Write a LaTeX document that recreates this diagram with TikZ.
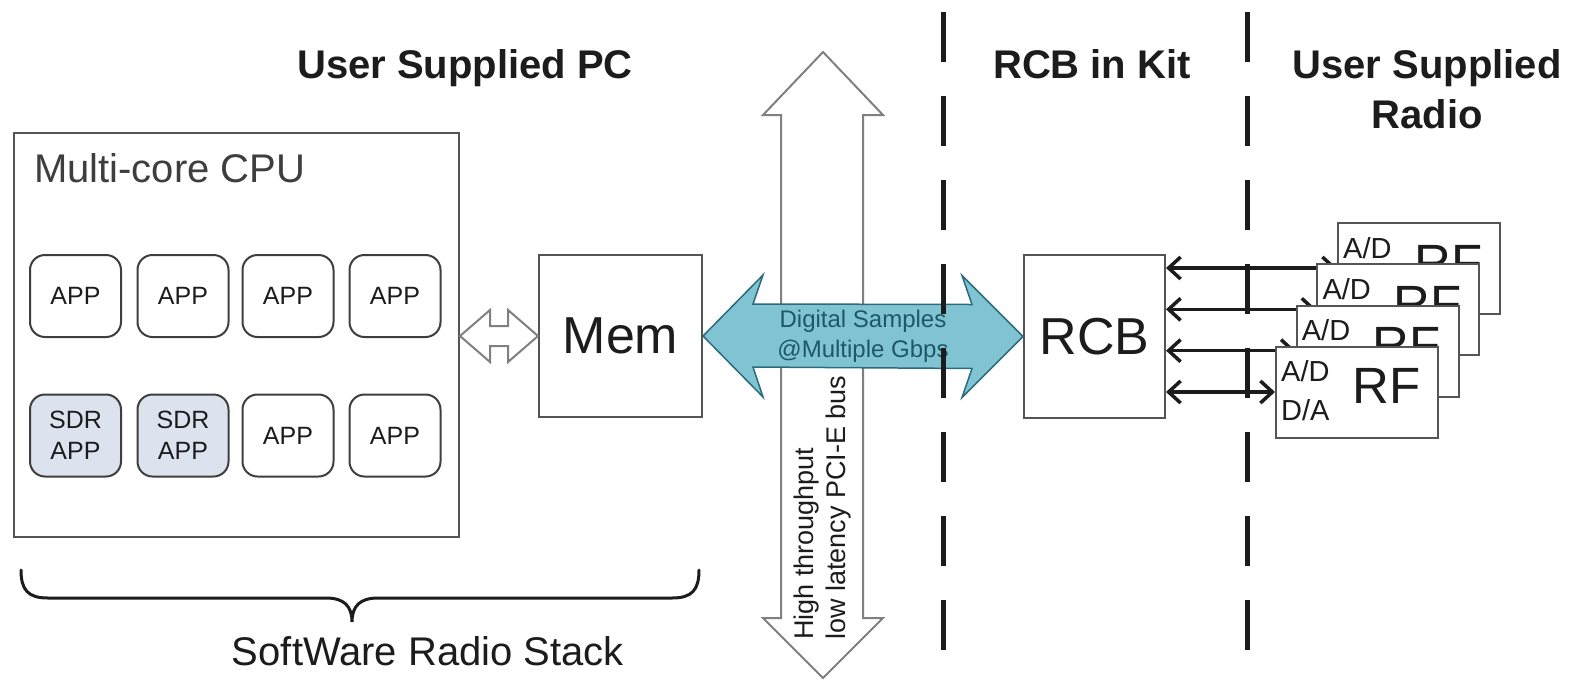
\documentclass[tikz,border=0pt]{standalone}
\usepackage{fontspec}
\setmainfont{Liberation Sans}
\usetikzlibrary{arrows.meta,calc}
\definecolor{ink}{HTML}{1C1C1C}
\definecolor{frame}{HTML}{555555}
\definecolor{hollow}{HTML}{808080}
\definecolor{busfill}{HTML}{80C4D4}
\definecolor{busedge}{HTML}{2C6B7C}
\definecolor{bustext}{HTML}{1D5868}
\definecolor{sdrfill}{HTML}{DCE3EF}
\newcommand{\fsz}[2]{\fontsize{#1}{#2}\selectfont}
\begin{document}
\begin{tikzpicture}[x=1pt,y=-1pt,
  every node/.style={text=ink},
  frame box/.style={draw=frame, line width=2pt, fill=white, inner sep=0pt},
  app/.style={draw=ink!85, line width=2pt, fill=white, rounded corners=15pt,
    minimum width=91pt, minimum height=82pt, inner sep=0pt,
    align=center, font=\fsz{25}{31}},
  sdr/.style={app, fill=sdrfill},
  heading/.style={font=\bfseries\fsz{40}{50}, align=center},
  divider/.style={draw=ink, line width=5pt, dash pattern=on 50pt off 34pt},
  hollow arrow/.style={draw=hollow, line width=2pt, fill=white, line join=miter},
  link/.style={draw=ink, line width=3.5pt,
    {Straight Barb[length=12pt,width=22pt]}-{Straight Barb[length=12pt,width=22pt]}},
  rfbox/.style={draw=frame, line width=2pt, fill=white,
    minimum width=162pt, minimum height=91pt, inner sep=0pt},
]
\fill[white] (0,0) rectangle (1572,681);
\useasboundingbox (0,0) rectangle (1572,681);

% headings (the two-line one is anchored on its last baseline)
\node[heading, anchor=base] (pc title) at (465,78) {User Supplied PC};
\node[heading, anchor=base] (kit title) at (1092,78) {RCB in Kit};
\node[heading, anchor=base] (radio title) at (1427,128) {User Supplied\\Radio};

% PCI-E bus (hollow vertical double arrow)
\draw[hollow arrow] (823,52) -- (883,115) -- (863,115) -- (863,618) -- (883,618)
  -- (823,678) -- (763,618) -- (781,618) -- (781,115) -- (763,115) -- cycle;
\node[rotate=90, anchor=west, align=left, inner sep=0pt, font=\fsz{27}{32}]
  (bus label) at (823,640) {High throughput\\low latency PCI-E bus};

% multi-core CPU with its applications
\node[frame box, minimum width=445pt, minimum height=404pt] (cpu) at (236.5,335) {};
\node[anchor=base west, inner sep=0pt, font=\fsz{40}{48}, text=ink!85]
  (cpu label) at (34,182) {Multi-core CPU};
\node[app] (a1) at (75.5,296) {APP};
\node[app] (a2) at (183,296) {APP};
\node[app] (a3) at (288,296) {APP};
\node[app] (a4) at (395,296) {APP};
\node[sdr] (s1) at (75.5,435.5) {SDR\\APP};
\node[sdr] (s2) at (183,435.5) {SDR\\APP};
\node[app] (a5) at (288,435.5) {APP};
\node[app] (a6) at (395,435.5) {APP};

% memory and radio control board
\node[frame box, minimum width=163pt, minimum height=162pt, font=\fsz{52}{60}]
  (mem) at (620.5,336) {Mem};
\node[frame box, minimum width=141pt, minimum height=163pt, font=\fsz{52}{60}]
  (rcb) at (1094.5,336.5) {RCB};

% CPU <-> memory
\draw[hollow arrow] (cpu.east |- mem.west) -- ++(30,-26) -- ++(0,16)
  -- ($(mem.west)+(-30,-10)$) -- ++(0,-16) -- (mem.west) -- ++(-30,26) -- ++(0,-16)
  -- ($(cpu.east |- mem.west)+(30,10)$) -- ++(0,16) -- cycle;

% memory <-> RCB sample stream
\draw[draw=busedge, line width=1.5pt, fill=busfill, line join=miter]
  (mem.east) -- ++(60,-61) -- ++(-10,29) -- ($(rcb.west)+(-51,-32)$) -- ++(-10,-29)
  -- (rcb.west) -- ++(-61,61) -- ++(10,-29) -- ($(mem.east)+(50,31)$) -- ++(10,30) -- cycle;
\node[font=\fsz{24}{30}, text=bustext, align=center]
  (bus rate) at ($(mem.east)!0.5!(rcb.west)$) {Digital Samples\\@Multiple Gbps};

% section dividers
\draw[divider] (943,12) -- (943,681);
\draw[divider] (1247,12) -- (1247,681);

% stacked RF front ends, each linked to the RCB
\foreach \k in {1,...,4}{
  \pgfmathsetmacro{\rfx}{1419-20.67*(\k-1)}
  \pgfmathsetmacro{\rfy}{268.5+41.33*(\k-1)}
  \node[rfbox] (rf\k) at (\rfx,\rfy) {};
  \node[anchor=base west, inner sep=0pt, font=\fsz{29}{35}] (ad\k)
    at ($(rf\k.north west)+(6,36)$) {A/D};
  \node[anchor=base west, inner sep=0pt, font=\fsz{29}{35}] (da\k)
    at ($(rf\k.north west)+(6,75)$) {D/A};
  \node[anchor=base west, inner sep=0pt, font=\fsz{51}{60}] (rfname\k)
    at ($(rf\k.north west)+(77,58)$) {RF};
  \coordinate (port\k) at ($(rf\k.north west)+(0,46)$);
  \draw[link] (rcb.east |- port\k) -- (port\k);
}

% software radio stack brace
\draw[draw=ink, line width=3pt, line cap=round]
  (21,570) .. controls (21,590) and (28,598) .. (48,598) -- (326,598)
  .. controls (344,598) and (352,606) .. (352,622)
  .. controls (352,606) and (360,598) .. (378,598) -- (672,598)
  .. controls (692,598) and (699,590) .. (699,570);
\node[anchor=base, font=\fsz{40}{48}] (stack label) at (428,665) {SoftWare Radio Stack};
\end{tikzpicture}
\end{document}
